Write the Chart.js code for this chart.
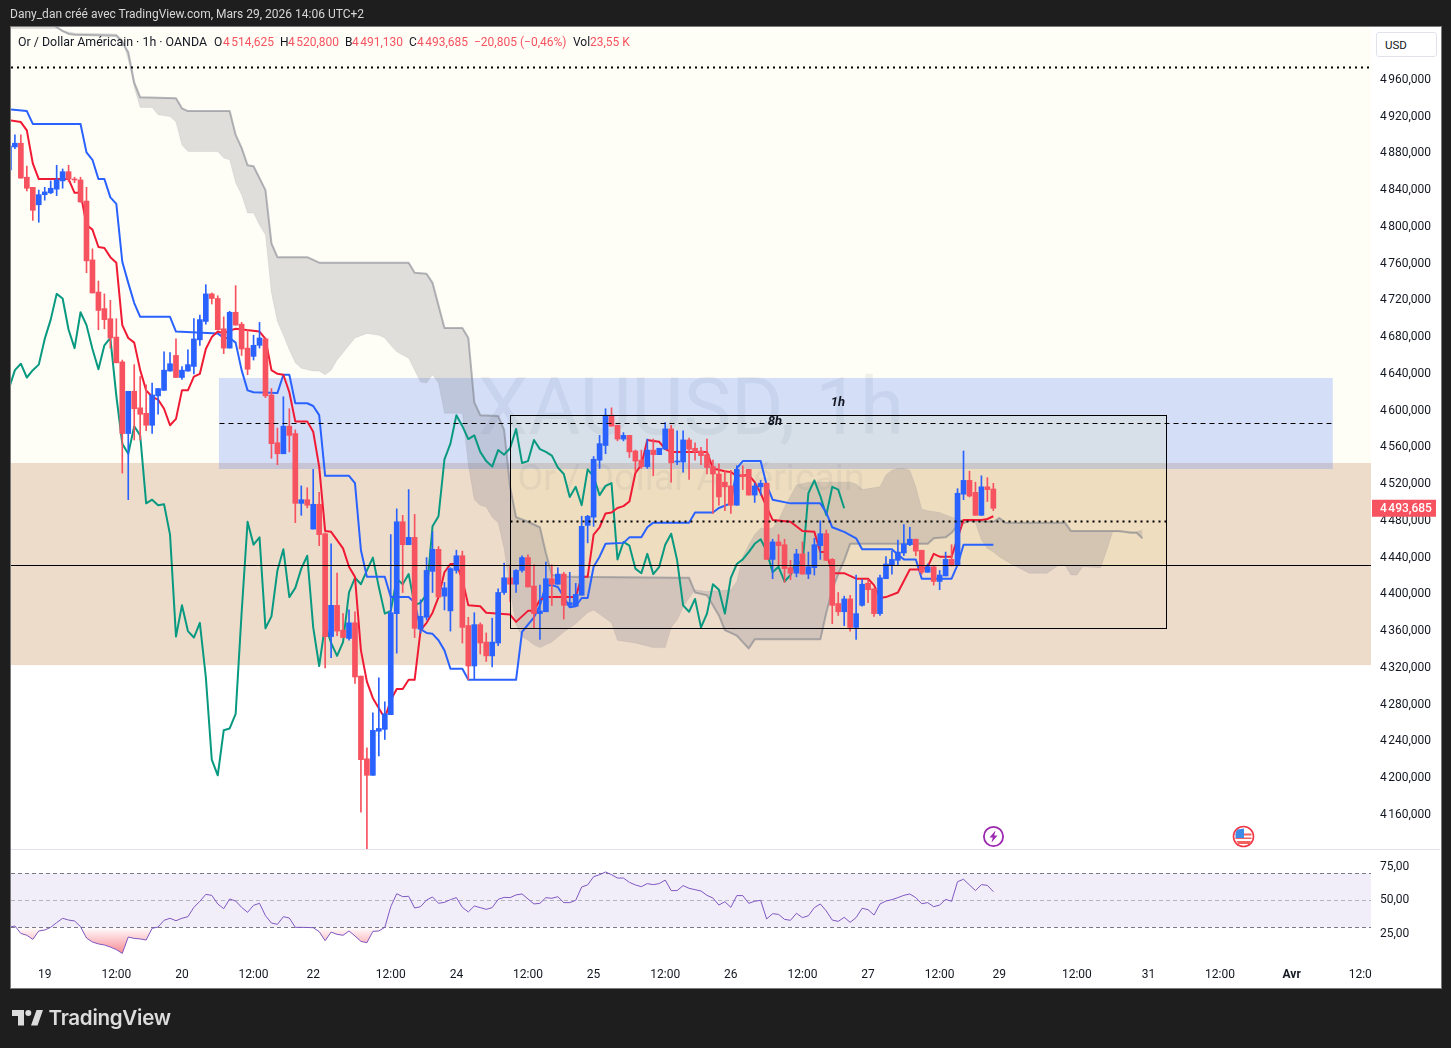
<!DOCTYPE html>
<html lang="fr">
<head>
<meta charset="utf-8">
<title>XAUUSD 1h</title>
<script src="https://cdn.jsdelivr.net/npm/chart.js@4"></script>
<style>
html,body{margin:0;padding:0;background:#1e1e1e;width:1451px;height:1048px;overflow:hidden;font-family:Roboto,sans-serif}
#panel{position:absolute;left:10px;top:26px;width:1430px;height:961px;background:#fff;border:1px solid #7a7a7a}
canvas{position:absolute;left:0;top:0}
.t{position:absolute;white-space:pre;font-size:12px;line-height:14px}
#head{left:10px;top:7px;color:#d6d6d6;font-size:12px}
.l{top:35px;color:#131722}.r{top:35px;color:#f7525f}
#usd{position:absolute;left:1376px;top:32px;width:61px;height:25px;border:1px solid #e0e3eb;border-radius:3px;box-sizing:border-box;font-size:11.5px;line-height:24px;color:#131722;padding-left:8px;background:#fff}
svg{position:absolute}
#brand{left:48.5px;top:1005px;font:600 20.6px/26px Inter,sans-serif;color:#dcdcdc;letter-spacing:-.3px}
</style>
</head>
<body>
<div id="panel"></div>
<canvas id="c" width="1451" height="1048"></canvas>
<div class="t" id="head">Dany_dan créé avec TradingView.com, Mars 29, 2026 14:06 UTC+2</div>
<div class="t l" style="left:18px;font-size:12.4px">Or / Dollar Américain · 1h · OANDA</div>
<div class="t l" style="left:214px">O</div><div class="t r" style="left:223px">4&#8239;514,625</div>
<div class="t l" style="left:280px">H</div><div class="t r" style="left:288px">4&#8239;520,800</div>
<div class="t l" style="left:345px">B</div><div class="t r" style="left:352px">4&#8239;491,130</div>
<div class="t l" style="left:409px">C</div><div class="t r" style="left:417px">4&#8239;493,685</div>
<div class="t r" style="left:474px">−20,805 (−0,46%)</div>
<div class="t l" style="left:573px">Vol</div><div class="t r" style="left:590px">23,55 K</div>
<div id="usd">USD</div>
<svg style="left:982px;top:825px" width="23" height="23" viewBox="0 0 23 23"><circle cx="11.5" cy="11.5" r="9.6" fill="#fff" stroke="#9c27b0" stroke-width="1.8"/><path d="M13.5 5.5 L7.5 12.5 H10.8 L9.5 17.5 L15.5 10.5 H12.2 Z" fill="#9c27b0"/></svg>
<svg style="left:1232px;top:825px" width="23" height="23" viewBox="0 0 23 23"><circle cx="11.5" cy="11.5" r="10" fill="#fff" stroke="#f23645" stroke-width="1.6"/><path d="M3.5 8.5H19.5V10.5H3.5Z M3.5 12.5H19.5V14H3.5Z M4.5 16H18.5V19H6.5Z" fill="#f2605f"/><path d="M3.8 7 L5.5 4.5 L12 3.5 V13 H3.5Z" fill="#3d8be6"/></svg>
<svg style="left:12px;top:1010px" width="31" height="16" viewBox="0 0 31 16"><path d="M0 0H12V15.5H6V6H0Z M19 15.5 L24.5 0H31L25.5 15.5Z" fill="#dcdcdc"/><circle cx="16.3" cy="3" r="3" fill="#dcdcdc"/></svg>
<div class="t" id="brand">TradingView</div>
<script>
// Candles from bar index -1 to 164
const firstBar = -1;
const opens = [4862,4887,4891,4854,4843,4824,4835,4837,4841,4850,
4860,4852,4851,4828,4764,4729,4711,4700,4680,4653,
4575,4621,4603,4597,4584,4616,4622,4643,4660,4636,
4643,4648,4677,4697,4727,4722,4689,4668,4707,4694,
4668,4659,4671,4678,4617,4565,4553,4583,4575,4499,
4503,4471,4498,4466,4354,4388,4361,4352,4369,4311,
4221,4203,4251,4253,4269,4379,4479,4454,4462,4362,
4375,4425,4449,4398,4382,4426,4442,4366,4322,4367,
4348,4333,4347,4402,4418,4411,4426,4440,4409,4379,
4381,4417,4411,4422,4388,4387,4399,4475,4484,4546,
4562,4595,4584,4569,4573,4556,4546,4539,4557,4552,
4558,4580,4544,4544,4568,4559,4556,4552,4539,4531,
4522,4518,4497,4530,4536,4508,4517,4521,4438,4457,
4454,4429,4423,4444,4422,4429,4453,4466,4438,4390,
4381,4395,4364,4388,4412,4406,4379,4417,4432,4437,
4445,4454,4460,4448,4424,4430,4414,4420,4438,4432,
4509,4524,4511,4486,4517,4514.625];
const highs = [4892,4900,4900,4866,4843,4840,4843,4850,4867,4863,
4867,4854,4854,4843,4776,4741,4727,4720,4700,4655,
4621,4650,4637,4628,4630,4624,4664,4663,4678,4648,
4666,4700,4704,4737,4728,4725,4702,4708,4736,4696,
4688,4682,4696,4679,4624,4581,4615,4602,4579,4518,
4516,4536,4511,4467,4455,4423,4379,4383,4381,4311,
4233,4271,4309,4283,4465,4493,4486,4514,4487,4394,
4440,4468,4452,4413,4429,4448,4447,4375,4380,4369,
4358,4374,4406,4434,4432,4427,4442,4443,4432,4410,
4435,4432,4429,4424,4424,4412,4485,4486,4550,4573,
4602,4603,4584,4576,4573,4557,4557,4569,4569,4559,
4587,4584,4578,4578,4570,4565,4560,4569,4546,4542,
4534,4535,4540,4540,4536,4521,4524,4521,4460,4465,
4460,4437,4449,4457,4446,4461,4480,4470,4439,4402,
4398,4399,4421,4416,4416,4406,4421,4441,4447,4459,
4476,4473,4460,4448,4433,4430,4426,4446,4454,4515,
4556,4534,4522,4529,4527,4520.8];
const lows = [4860,4885,4853,4839,4807,4805,4829,4836,4834,4842,
4849,4848,4827,4750,4728,4688,4689,4668,4652,4532,
4503,4568,4568,4578,4575,4596,4622,4643,4636,4634,
4643,4640,4671,4694,4716,4688,4662,4668,4693,4660,
4639,4655,4668,4614,4548,4541,4553,4555,4478,4486,
4494,4471,4453,4320,4331,4355,4353,4350,4303,4163,
4123,4203,4224,4242,4269,4336,4402,4454,4353,4358,
4372,4402,4397,4383,4360,4423,4347,4307,4307,4335,
4327,4321,4344,4400,4392,4402,4424,4408,4363,4351,
4381,4388,4411,4373,4386,4387,4399,4456,4474,4537,
4553,4583,4567,4567,4549,4533,4537,4537,4529,4552,
4558,4522,4541,4533,4525,4546,4541,4531,4488,4497,
4491,4488,4497,4514,4508,4500,4508,4438,4417,4432,
4413,4416,4419,4422,4417,4421,4438,4437,4368,4377,
4366,4360,4351,4387,4391,4376,4377,4417,4422,4432,
4442,4453,4442,4422,4424,4410,4405,4420,4431,4432,
4503,4506,4486,4486,4501,4491.13];
const closes = [4888,4891,4853,4842,4818,4835,4838,4842,4851,4860,
4852,4851,4827,4763,4728,4709,4699,4679,4652,4575,
4621,4602,4596,4584,4617,4624,4644,4651,4636,4644,
4650,4678,4699,4727,4722,4688,4668,4707,4693,4667,
4645,4671,4679,4616,4564,4553,4583,4573,4499,4503,
4497,4498,4465,4354,4388,4360,4353,4369,4310,4220,
4203,4252,4254,4270,4380,4479,4454,4462,4363,4376,
4426,4449,4397,4407,4428,4442,4364,4322,4367,4347,
4333,4348,4402,4418,4411,4426,4440,4408,4379,4382,
4417,4411,4422,4388,4391,4400,4474,4485,4547,4564,
4595,4583,4569,4573,4555,4545,4539,4557,4552,4559,
4580,4543,4545,4568,4558,4555,4551,4538,4531,4506,
4517,4497,4536,4528,4508,4518,4521,4438,4457,4453,
4428,4423,4444,4422,4430,4454,4466,4437,4388,4381,
4395,4364,4379,4411,4405,4379,4418,4433,4438,4446,
4455,4460,4447,4424,4430,4414,4421,4438,4431,4510,
4524,4507,4486,4517,4514,4493.685];

// Lagging span, from bar -1 to 139
const chikouStart = -1;
const chikou = [4624,4644,4651,4636,4644,4650,4678,4699,4727,4722,
4688,4668,4707,4693,4667,4645,4671,4679,4616,4564,
4553,4583,4573,4499,4503,4497,4498,4465,4354,4388,
4360,4353,4369,4310,4220,4203,4252,4254,4270,4380,
4479,4454,4462,4363,4376,4426,4449,4397,4407,4428,
4442,4364,4322,4367,4347,4333,4348,4402,4418,4411,
4426,4440,4408,4379,4382,4417,4411,4422,4388,4391,
4400,4474,4485,4547,4564,4595,4583,4569,4573,4555,
4545,4539,4557,4552,4559,4580,4543,4545,4568,4558,
4555,4551,4538,4531,4506,4517,4497,4536,4528,4508,
4518,4521,4438,4457,4453,4428,4423,4444,4422,4430,
4454,4466,4437,4388,4381,4395,4364,4379,4411,4405,
4379,4418,4433,4438,4446,4455,4460,4447,4424,4430,
4414,4421,4438,4431,4510,4524,4507,4486,4517,4514,4493.685];

const tenkanBars = [-1,1,2,3,4,9,10,11,12,13,14,15,16,17,18,19,20,21,22,23,24,25,26,27,28,29,30,31,32,33,34,35,36,37,41,42,43,44,45,46,47,49,50,51,52,53,54,55,56,57,58,59,60,61,62,63,64,65,66,67,68,69,70,71,72,73,74,75,76,78,79,83,84,86,87,88,89,94,95,96,97,98,99,100,101,102,103,104,105,106,107,108,109,110,116,117,119,120,121,123,124,125,126,127,130,132,134,135,136,137,139,141,143,144,145,146,148,150,152,153,154,155,157,158,159,162,163,164];
const tenkan = [4916,4914,4905,4869,4852,4852,4837,4837,4802,4797,4778,4777,4767,4761,4693,4679,4674,4644,4622,4615,4612,4602,4584,4591,4622,4622,4637,4640,4667,4680,4686,4684,4687,4689,4686,4678,4644,4640,4639,4620,4588,4588,4577,4539,4469,4468,4459,4450,4430,4419,4339,4305,4287,4276,4265,4285,4297,4297,4307,4307,4361,4369,4380,4397,4424,4433,4433,4416,4388,4387,4380,4378,4370,4382,4382,4394,4397,4397,4419,4419,4465,4473,4488,4489,4494,4496,4501,4532,4541,4568,4567,4566,4558,4555,4555,4537,4534,4533,4529,4530,4522,4510,4495,4481,4479,4469,4468,4446,4446,4423,4423,4417,4417,4410,4396,4397,4402,4427,4427,4430,4444,4441,4441,4461,4481,4481,4482,4485];

const kijunBars = [-1,2,3,11,12,13,14,15,16,17,18,19,20,21,26,27,34,35,36,37,38,39,40,44,45,46,47,49,50,51,52,56,57,58,59,62,63,66,67,68,69,70,71,72,73,75,76,84,85,87,88,89,90,91,92,93,94,95,96,97,98,99,102,103,105,106,107,113,114,117,118,120,121,122,125,126,127,130,135,136,137,139,141,142,147,148,149,151,152,157,158,159,164];
const kijun = [4928,4926,4912,4912,4881,4873,4852,4852,4832,4825,4762,4739,4717,4702,4702,4686,4684,4679,4679,4674,4644,4622,4620,4619,4639,4639,4608,4608,4605,4595,4529,4529,4521,4448,4419,4419,4397,4397,4391,4362,4358,4357,4350,4339,4319,4319,4307,4307,4359,4375,4388,4410,4410,4408,4397,4386,4387,4396,4396,4430,4441,4455,4456,4462,4462,4473,4478,4478,4489,4489,4494,4499,4537,4545,4545,4519,4503,4499,4499,4489,4473,4468,4461,4449,4449,4443,4438,4438,4417,4417,4432,4454,4454];

const senkouABars = [-1,5,7,8,9,10,17,18,19,20,21,23,24,26,27,28,29,34,35,36,37,38,39,40,41,42,43,44,45,46,47,48,50,51,52,53,54,55,56,57,59,61,62,63,64,66,67,68,69,70,71,72,75,76,77,78,79,80,81,82,83,84,85,86,87,88,89,90,92,94,96,97,100,101,104,107,109,110,111,112,113,114,116,120,121,122,123,124,125,127,128,129,131,133,140,141,142,145,146,147,148,149,150,151,152,153,155,157,160,161,162,163,164,165,167,170,173,175,176,177,178,179,182,183,184,188,189];
const senkouA = [5016,5016,5016,5014,5012,5011,5010,5004,4982,4952,4930,4930,4922,4920,4914,4889,4882,4882,4875,4873,4848,4835,4815,4815,4802,4791,4728,4697,4682,4666,4652,4646,4643,4643,4639,4644,4655,4663,4671,4679,4684,4682,4679,4671,4664,4657,4644,4631,4630,4639,4630,4597,4597,4541,4503,4497,4495,4484,4478,4450,4405,4367,4354,4350,4345,4342,4345,4348,4359,4368,4380,4383,4369,4350,4347,4342,4342,4364,4372,4386,4396,4405,4403,4405,4414,4441,4454,4465,4472,4472,4481,4495,4519,4522,4522,4520,4514,4517,4530,4535,4537,4537,4535,4517,4493,4491,4489,4484,4479,4478,4459,4450,4446,4441,4433,4423,4423,4432,4432,4421,4421,4430,4429,4448,4468,4468,4470];

const senkouBBars = [-1,6,7,8,9,10,17,18,19,20,21,27,28,29,36,37,38,39,40,42,43,44,49,51,66,67,69,70,72,75,76,77,78,81,82,83,84,86,88,89,90,92,111,113,114,116,118,119,121,122,123,124,135,136,137,138,139,140,151,153,154,156,157,158,160,164,165,166,176,177,185,186,187,188,189];
const senkouB = [5023,5021,5017.5,5013,5010,5009,5008,5001,4990,4957,4941,4940,4929,4926,4926,4900,4886,4867,4866,4840,4782,4767,4767,4761,4761,4750,4749,4739,4690,4690,4679,4609,4595,4594,4579,4517,4484,4479,4473,4445,4421,4419,4418,4418,4402,4399,4377,4361,4355,4348,4341,4351,4351,4380,4405,4422,4437,4455,4455,4455,4461,4462,4467,4475,4480,4479,4483,4478,4478,4469,4469,4468,4467,4467,4461];

// RSI from bar -1 to 164
const rsiValues = [30,31,25.5,24.1,21.1,27.3,28,30,33.5,36.7,35.4,34.7,30.5,22.1,19.1,17.7,16.9,15.4,13.5,10.7,22.8,21.8,21.4,20.6,29.3,30.2,35.2,36.7,34.9,36.7,37.9,44.8,49.3,54.4,53.7,47.3,43.8,51,49.5,44.8,41.1,46.3,47.8,38.6,33.2,32.2,37.9,36.9,30,30,29.9,29.7,26.8,20.1,26.5,24.8,24.1,27.3,23.6,19.6,18.6,27,27.3,30,45.3,54.9,52.7,53,44.3,45.3,50.2,52.5,47.8,48.5,50.5,52,44.8,41.4,45.8,44.6,43.3,44.6,50.7,52.2,52,54,
54.7,51,47.3,47.8,52,51.5,52.7,48.3,48.3,50,59.9,61.4,67.5,69,71,69,66.5,66.5,63.3,61.4,60.1,62.4,61.6,62.4,65,57.2,57.2,60.9,58.9,57.9,56.9,53.7,51.7,46.5,49,44.8,53.5,53.5,47.8,49.3,50,36.2,40.1,39.6,35.9,35.2,40.4,37.2,38.6,44.6,47.3,42.1,35.4,34.4,37.4,33.7,37.2,44.1,43.1,39.1,47.3,49.5,50.5,52,53.7,54.7,52,47.5,48.3,45.3,46.5,50.7,49.3,63.8,65.6,61.4,57.2,61.6,61.1,56.4];

// Axes
const priceTicks = [4160,4200,4240,4280,4320,4360,4400,4440,4480,4520,4560,4600,4640,4680,4720,4760,4800,4840,4880,4920,4960];
const rsiTicks = [25,50,75];
const timeBars = [5,17,28,40,50,63,74,86,97,109,120,132,143,155,165,178,190,202,214,225.5];
const timeLabels = ['19','12:00','20','12:00','22','12:00','24','12:00','25','12:00','26','12:00','27','12:00','29','12:00','31','12:00','Avr','12:0'];
const xRange = [-0.654, 227.3];
const priceRange = [4122.8, 5017.5];
const rsiRange = [5.8, 88.02];
const rsiBand = [30, 70];

// Drawn levels (prices) and their bar spans
const creamBottom = 4543, tanBottom = 4323;
const blueZone = {from:34.2, to:220.9, hi:4635.5, lo:4536.4};
const yellowBox = {from:83, to:192.9, hi:4595.2, lo:4431.9};
const frameBox = {from:83, to:192.9, hi:4595.2, lo:4363.4};
const topDotted = 4974, boxDotted = 4479.8, fullLine = 4431.9, zoneDashed = 4586.5;
const lastPrice = 4493.685;

const UP = '#2962ff', DOWN = '#f7525f';
const barColors = closes.map((c,i)=> c >= opens[i] ? UP : DOWN);
const toXY = (xs, ys) => ys.map((y,i)=>({x:xs[i], y}));
const fromStart = (start, ys) => ys.map((y,i)=>({x:start+i, y}));

const bodies = opens.map((o,i)=>({x:firstBar+i, y:[o,closes[i]]}));
const wicks = lows.map((l,i)=>({x:firstBar+i, y:[l,highs[i]]}));

function fmt(v){ const s=v.toFixed(3).replace('.',','); return s[0]+'\u202f'+s.slice(1); }

const lineBase = {type:'line', pointRadius:0, tension:0, borderJoinStyle:'round', fill:false, yAxisID:'y', xAxisID:'x'};

const zonesPlugin = {
  id:'zones',
  beforeDatasetsDraw(ch){
    const {ctx, chartArea:a, scales:{x,y,yRsi}} = ch;
    const Y=v=>y.getPixelForValue(v), X=v=>x.getPixelForValue(v);
    ctx.save();
    ctx.beginPath(); ctx.rect(a.left,a.top,a.width,a.height); ctx.clip();
    ctx.fillStyle='#fffef6'; ctx.fillRect(a.left,y.top,a.width,Y(creamBottom)-y.top);
    ctx.fillStyle='#eedccb'; ctx.fillRect(a.left,Y(creamBottom),a.width,Y(tanBottom)-Y(creamBottom));
    // watermark
    ctx.fillStyle='rgba(120,123,134,0.11)'; ctx.textAlign='center'; ctx.textBaseline='middle';
    ctx.font='80px Roboto,sans-serif'; ctx.fillText('XAUUSD, 1h',691,414);
    ctx.font='37.4px Roboto,sans-serif'; ctx.fillText('Or / Dollar Américain',691,481);
    // zones
    ctx.fillStyle='rgba(41,98,255,0.2)';
    ctx.fillRect(X(blueZone.from),Y(blueZone.hi),X(blueZone.to)-X(blueZone.from),Y(blueZone.lo)-Y(blueZone.hi));
    ctx.fillStyle='rgba(255,235,59,0.07)';
    ctx.fillRect(X(yellowBox.from),Y(yellowBox.hi),X(yellowBox.to)-X(yellowBox.from),Y(yellowBox.lo)-Y(yellowBox.hi));
    // RSI band
    const R=v=>yRsi.getPixelForValue(v);
    ctx.fillStyle='rgba(126,87,194,0.1)';
    ctx.fillRect(a.left,R(rsiBand[1]),a.width,R(rsiBand[0])-R(rsiBand[1]));
    ctx.lineWidth=1;
    ctx.setLineDash([4,3]); ctx.strokeStyle='#787b86';
    [rsiBand[1],rsiBand[0]].forEach(v=>{const p=Math.round(R(v))+.5;ctx.beginPath();ctx.moveTo(a.left,p);ctx.lineTo(a.right,p);ctx.stroke();});
    ctx.strokeStyle='rgba(120,123,134,0.5)';
    {const p=Math.round(R(50))+.5;ctx.beginPath();ctx.moveTo(a.left,p);ctx.lineTo(a.right,p);ctx.stroke();}
    ctx.restore();
  },
  afterDatasetsDraw(ch){
    const {ctx, chartArea:a, scales:{x,y}} = ch;
    const Y=v=>Math.round(y.getPixelForValue(v))+.5, X=v=>Math.round(x.getPixelForValue(v))+.5;
    ctx.save();
    ctx.strokeStyle='#000'; ctx.lineWidth=1;
    ctx.beginPath(); ctx.moveTo(a.left,Y(fullLine)); ctx.lineTo(a.right,Y(fullLine)); ctx.stroke();
    ctx.strokeRect(X(frameBox.from),Y(frameBox.hi),X(frameBox.to)-X(frameBox.from),Y(frameBox.lo)-Y(frameBox.hi));
    ctx.setLineDash([5,4]);
    ctx.beginPath(); ctx.moveTo(X(blueZone.from),Y(zoneDashed)); ctx.lineTo(X(blueZone.to),Y(zoneDashed)); ctx.stroke();
    ctx.lineWidth=2; ctx.setLineDash([2,4]);
    ctx.beginPath(); ctx.moveTo(a.left,Y(topDotted)); ctx.lineTo(a.right,Y(topDotted)); ctx.stroke();
    ctx.beginPath(); ctx.moveTo(X(frameBox.from),Y(boxDotted)); ctx.lineTo(X(frameBox.to),Y(boxDotted)); ctx.stroke();
    ctx.setLineDash([]);
    ctx.fillStyle='#131722'; ctx.font='italic bold 13px Roboto,sans-serif'; ctx.textAlign='center'; ctx.textBaseline='middle';
    ctx.fillText('1h',838,403); ctx.fillText('8h',775,422);
    ctx.restore();
  },
  afterDraw(ch){
    const {ctx, chartArea:a, scales:{y}} = ch;
    ctx.save();
    ctx.fillStyle='#e0e3eb'; ctx.fillRect(a.left,y.bottom,1429,1);
    const p=y.getPixelForValue(lastPrice);
    ctx.fillStyle=DOWN; ctx.fillRect(a.right+1,p-8.5,64,17);
    ctx.fillStyle='#fff'; ctx.font='500 12px Roboto,sans-serif'; ctx.textAlign='left'; ctx.textBaseline='middle';
    ctx.fillText(fmt(lastPrice),a.right+9,p+.5);
    ctx.restore();
  }
};

const datasets = [
  {...lineBase, label:'Senkou A', data:toXY(senkouABars,senkouA), borderColor:'rgba(120,123,134,0.12)', borderWidth:1, backgroundColor:'rgba(120,123,134,0.24)', fill:1, order:9},
  {...lineBase, label:'Senkou B', data:toXY(senkouBBars,senkouB), borderColor:'rgba(120,123,134,0.55)', borderWidth:2, order:8},
  {...lineBase, label:'Chikou', data:fromStart(chikouStart,chikou), borderColor:'#089981', borderWidth:2, order:7},
  {...lineBase, label:'Kijun', data:toXY(kijunBars,kijun), borderColor:'#2962ff', borderWidth:2, order:6},
  {...lineBase, label:'Tenkan', data:toXY(tenkanBars,tenkan), borderColor:'#f01a34', borderWidth:2, order:5},
  {type:'bar', label:'Wicks', data:wicks, backgroundColor:barColors, barThickness:1, grouped:false, minBarLength:1, order:2, yAxisID:'y', xAxisID:'x'},
  {type:'bar', label:'Bodies', data:bodies, backgroundColor:barColors, barThickness:5, grouped:false, minBarLength:1, order:1, yAxisID:'y', xAxisID:'x'},
  {type:'line', label:'RSI', data:fromStart(firstBar,rsiValues), borderColor:'#7e57c2', borderWidth:1, pointRadius:0, tension:0, yAxisID:'yRsi', xAxisID:'x', order:0,
    fill:{target:{value:30}, above:'rgba(0,0,0,0)', below:'rgba(242,54,69,0.3)'}}
];

const chart = new Chart(document.getElementById('c'),{
  data:{datasets},
  plugins:[zonesPlugin],
  options:{
    responsive:false, animation:false, devicePixelRatio:1,
    layout:{padding:{left:11,top:27,right:11,bottom:60}},
    plugins:{legend:{display:false},tooltip:{enabled:false}},
    events:[],
    scales:{
      x:{type:'linear',position:'bottom',offset:false,min:xRange[0],max:xRange[1],
        grid:{display:false,drawTicks:false},border:{display:false},
        afterBuildTicks(s){s.ticks=timeBars.map(v=>({value:v}));},
        afterFit(s){s.height=28;},
        ticks:{autoSkip:false,maxRotation:0,padding:8,color:'#131722',
          font:c=>({family:'Roboto,sans-serif',size:12,weight:timeLabels[timeBars.indexOf(c.tick&&c.tick.value)]==='Avr'?'bold':'normal'}),
          callback:v=>timeLabels[timeBars.indexOf(v)]}},
      y:{type:'linear',position:'right',stack:'p',stackWeight:822,min:priceRange[0],max:priceRange[1],
        grid:{display:false,drawTicks:false},border:{display:false},
        afterBuildTicks(s){s.ticks=priceTicks.map(v=>({value:v}));},
        afterFit(s){s.width=69;},
        ticks:{autoSkip:false,padding:9,color:'#131722',font:{family:'Roboto,sans-serif',size:12},callback:v=>fmt(v)}},
      yRsi:{type:'linear',position:'right',stack:'p',stackWeight:111,min:rsiRange[0],max:rsiRange[1],
        grid:{display:false,drawTicks:false},border:{display:false},
        afterBuildTicks(s){s.ticks=rsiTicks.map(v=>({value:v}));},
        afterFit(s){s.width=69;},
        ticks:{autoSkip:false,padding:9,color:'#131722',font:{family:'Roboto,sans-serif',size:12},callback:v=>v.toFixed(2).replace('.',',')}}
    }
  }
});
// oversold gradient on the RSI fill
(function(){
  const s=chart.scales.yRsi, c=chart.ctx;
  const g=c.createLinearGradient(0,s.getPixelForValue(30),0,s.getPixelForValue(10));
  g.addColorStop(0,'rgba(242,54,69,0)'); g.addColorStop(1,'rgba(242,54,69,0.6)');
  chart.data.datasets[7].fill.below=g;
  chart.update('none');
})();
</script>
</body>
</html>
